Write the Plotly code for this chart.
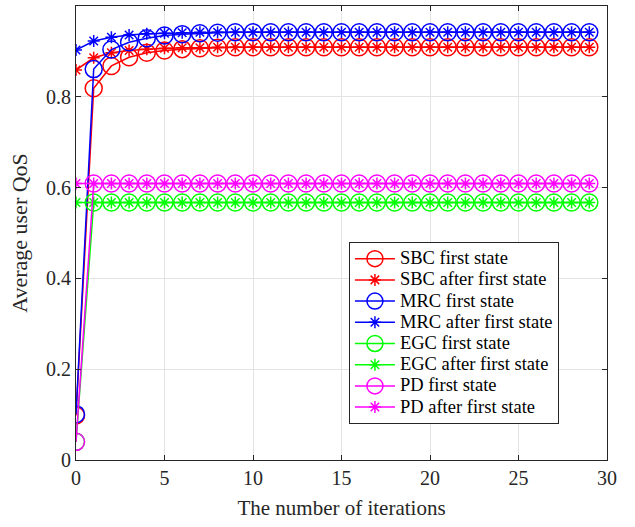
import plotly.graph_objects as go

iterations = list(range(30))

sbc_first = [0.098, 0.819, 0.868, 0.887, 0.897, 0.902, 0.905, 0.907, 0.908] + [0.909] * 21
sbc_after = [0.859, 0.886, 0.897, 0.902, 0.905, 0.907, 0.908, 0.908] + [0.909] * 22
mrc_first = [0.101, 0.861, 0.904, 0.920, 0.929, 0.935, 0.938, 0.940, 0.941] + [0.942] * 21
mrc_after = [0.903, 0.923, 0.931, 0.936, 0.939, 0.940, 0.941] + [0.942] * 23
egc_first = [0.040] + [0.567] * 29
egc_after = [0.567] * 30
pd_first = [0.040] + [0.609] * 29
pd_after = [0.609] * 30

series = [
    ("SBC first state", sbc_first, "#ff0000", "circle-open", 17),
    ("SBC after first state", sbc_after, "#ff0000", "asterisk-open", 10),
    ("MRC first state", mrc_first, "#0000ff", "circle-open", 17),
    ("MRC after first state", mrc_after, "#0000ff", "asterisk-open", 10),
    ("EGC first state", egc_first, "#00ff00", "circle-open", 17),
    ("EGC after first state", egc_after, "#00ff00", "asterisk-open", 10),
    ("PD first state", pd_first, "#ff00ff", "circle-open", 17),
    ("PD after first state", pd_after, "#ff00ff", "asterisk-open", 10),
]

fig = go.Figure()
for name, vals, color, sym, size in series:
    fig.add_trace(go.Scatter(
        x=iterations, y=vals, mode="lines+markers",
        name='<span style="font-size:18.5px">' + name + '</span>',
        line=dict(color=color, width=1.5),
        marker=dict(symbol=sym, size=size, color=color,
                    line=dict(color=color, width=1.5)),
    ))

font = "Liberation Serif, Times New Roman, serif"
axis_common = dict(
    showline=True, linecolor="#262626", linewidth=1, mirror="ticks",
    ticks="inside", ticklen=5, tickcolor="#262626",
    showgrid=True, gridcolor="#e3e3e3", gridwidth=1, zeroline=False,
    tickfont=dict(family=font, size=20, color="#262626"),
    automargin=False,
)
fig.update_layout(
    width=635, height=527,
    margin=dict(l=76, r=28, t=6, b=67),
    paper_bgcolor="white", plot_bgcolor="white",
    font=dict(family=font, color="#262626"),
    xaxis=dict(range=[0, 30], dtick=5,
               title=dict(text="The number of iterations", font=dict(family=font, size=21), standoff=12),
               **axis_common),
    yaxis=dict(range=[0, 1], dtick=0.2, tickformat="~g",
               title=dict(text="Average user QoS", font=dict(family=font, size=22), standoff=12),
               **axis_common),
    legend=dict(x=0.514, y=0.48, xanchor="left", yanchor="top",
                bgcolor="white", bordercolor="#262626", borderwidth=1,
                font=dict(family=font, size=14, color="#000000"),
                tracegroupgap=0, itemwidth=40),
    showlegend=True,
)

fig.write_html("out.html", config={"displayModeBar": False},
               post_script="document.body.style.margin='0';")
